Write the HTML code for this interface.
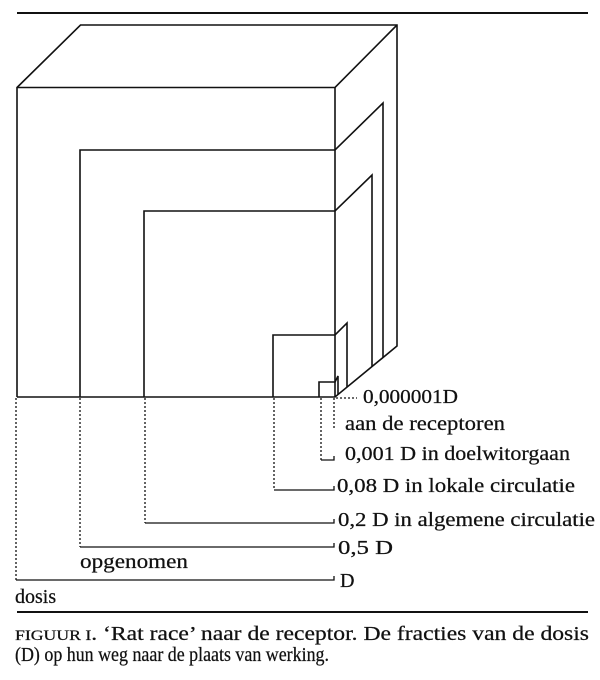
<!DOCTYPE html>
<html><head><meta charset="utf-8"><style>
html,body{margin:0;padding:0;background:#fff}
svg{display:block}
text{font-family:"Liberation Serif",serif;fill:#111}
</style></head><body>
<svg width="600" height="680" viewBox="0 0 600 680" xmlns="http://www.w3.org/2000/svg">
<g stroke="#111" fill="none" stroke-width="1.6">
<line x1="17" y1="13" x2="588" y2="13" stroke-width="2"/>
<polyline points="17,397 17,87.5 80.5,25 397,25 397,346 335,397 17,397"/>
<polyline points="17,87.5 335,87.5 397,25"/>
<line x1="335" y1="87.5" x2="335" y2="397"/>
<polyline points="80,397 80,150 335,150 383,103 383,357.5"/>
<polyline points="144,397 144,211 335,211 372,175 372,366.6"/>
<polyline points="273,397 273,335 335,335 347,323 347,387"/>
<polyline points="319,397 319,382 335,382 338,376 338,394.5"/>
</g>
<g stroke="#111" fill="none" stroke-width="1.3" stroke-dasharray="2,2">
<line x1="16" y1="398" x2="16" y2="580"/>
<line x1="80" y1="398" x2="80" y2="547"/>
<line x1="145" y1="398" x2="145" y2="523"/>
<line x1="274" y1="398" x2="274" y2="490"/>
<line x1="321" y1="398" x2="321" y2="460"/>
<line x1="334" y1="398" x2="334" y2="428"/>
<line x1="336" y1="398" x2="357" y2="398"/>
</g>
<g stroke="#111" fill="none" stroke-width="1.3">
<polyline points="321,460 334,460 334,456"/>
<polyline points="274,490 334,490 334,486"/>
<polyline points="145,523 334,523 334,519"/>
<polyline points="80,547 334,547 334,543"/>
<polyline points="16,580 334,580 334,576"/>
<line x1="17" y1="612" x2="588" y2="612" stroke-width="2"/>
</g>
<g font-size="20" stroke="#111" stroke-width="0.25">
<text x="363" y="403" textLength="95" lengthAdjust="spacingAndGlyphs">0,000001D</text>
<text x="345" y="430" textLength="160" lengthAdjust="spacingAndGlyphs">aan de receptoren</text>
<text x="345" y="460" textLength="225" lengthAdjust="spacingAndGlyphs">0,001 D in doelwitorgaan</text>
<text x="337" y="492" textLength="238" lengthAdjust="spacingAndGlyphs">0,08 D in lokale circulatie</text>
<text x="338" y="526" textLength="257" lengthAdjust="spacingAndGlyphs">0,2 D in algemene circulatie</text>
<text x="338" y="554" textLength="55" lengthAdjust="spacingAndGlyphs">0,5 D</text>
<text x="340" y="587">D</text>
<text x="80" y="568" textLength="108" lengthAdjust="spacingAndGlyphs">opgenomen</text>
<text x="15" y="603">dosis</text>
<text x="15" y="640" font-size="20" textLength="574" lengthAdjust="spacingAndGlyphs"><tspan font-size="15">FIGUUR I</tspan>. ‘Rat race’ naar de receptor. De fracties van de dosis</text>
<text x="15" y="661" font-size="20" textLength="314" lengthAdjust="spacingAndGlyphs">(D) op hun weg naar de plaats van werking.</text>
</g>
</svg>
</body></html>
